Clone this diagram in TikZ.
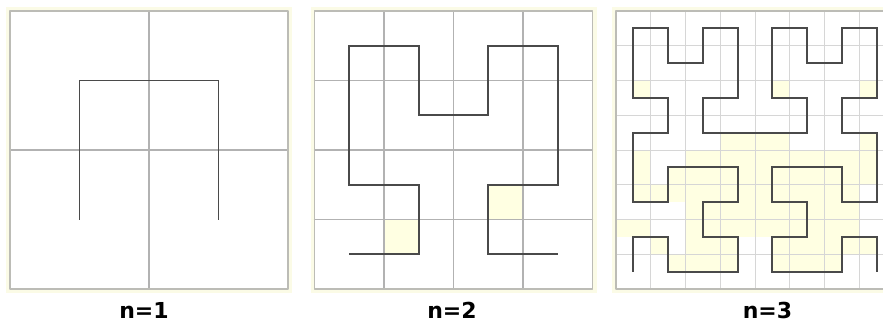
\documentclass[tikz,border=0pt]{standalone}
\usepackage{fontspec}
\newfontfamily\captionfont{DejaVu Sans}
\usetikzlibrary{positioning}

\definecolor{halo}{HTML}{FBFBE6}
\definecolor{framegray}{HTML}{BCBCB6}
\definecolor{gridgray}{HTML}{B2B2B2}
\definecolor{finegray}{HTML}{D6D6D6}
\definecolor{curvegray}{HTML}{4A4A4A}
\definecolor{paleyellow}{HTML}{FFFFE2}

\begin{document}
\begin{tikzpicture}[x=1pt, y=-1pt, line cap=round, line join=round,
    panel/.style={draw=framegray, line width=1.6pt},
    gridline/.style={draw=gridgray, line width=1.1pt},
    fineline/.style={draw=finegray, line width=1pt},
    curve/.style={draw=curvegray, line width=1.9pt, line cap=butt, line join=miter},
    shade/.style={fill=paleyellow},
    caption/.style={font=\captionfont\bfseries\fontsize{22}{22}\selectfont, anchor=base}]
	\useasboundingbox (0,0) rectangle (883,327);
	\clip (0,0) rectangle (883,327);
	% halos round the panels
	\foreach \px in {10,314.5,616}
		\fill[halo] (\px-4,7) rectangle (\px+282,293);
	% n=1
	\begin{scope}[xshift=10pt, yshift=-289pt, x=139pt, y=139pt]
		\fill[white] (0,0) rectangle (2,2);
		\draw[gridline] (1,0) -- (1,2) (0,1) -- (2,1);
		\draw[panel] (0,0) rectangle (2,2);
		\draw[curve, shift={(0.5,0.5)}] (0,0) -- (0,1) -- (1,1) -- (1,0);
	\end{scope}
	% n=2
	\begin{scope}[xshift=314.5pt, yshift=-289pt, x=69.5pt, y=69.5pt]
		\fill[white] (0,0) rectangle (4,4);
		\fill[shade] (1,0.5) rectangle (1.5,1);
		\fill[shade] (2.5,1) rectangle (3,1.5);
		\foreach \k in {1,2,3}
			\draw[gridline] (\k,0) -- (\k,4) (0,\k) -- (4,\k);
		\draw[panel] (0,0) rectangle (4,4);
		\draw[curve, shift={(0.5,0.5)}] (0,0) -- (1,0) -- (1,1) -- (0,1) -- (0,3) -- (1,3)
			-- (1,2) -- (2,2) -- (2,3) -- (3,3) -- (3,1) -- (2,1) -- (2,0) -- (3,0);
	\end{scope}
	% n=3, shaded bits (half cells, rows counted from top)
	\begin{scope}[xshift=616pt, yshift=-11pt, x=17.375pt, y=-17.375pt]
		\fill[white] (0,0) rectangle (16,16);
		\foreach \a/\b/\v in {1/2/4, 9/10/4, 14/15/4, 6/10/7, 14/15/7, 1/2/8, 4/15/8,
				1/2/9, 3/15/9, 1/14/10, 4/14/11, 0/2/12, 4/14/12, 2/3/13, 4/7/13,
				9/15/13, 3/7/14, 9/13/14}
			\fill[shade] (\a,\v) rectangle (\b,\v+1);
	\end{scope}
	\begin{scope}[xshift=616pt, yshift=-289pt, x=34.75pt, y=34.75pt]
		\foreach \k in {1,...,7}
			\draw[fineline] (\k,0) -- (\k,8) (0,\k) -- (8,\k);
		\draw[panel] (0,0) rectangle (8,8);
		\draw[curve, shift={(0.5,0.5)}] (0,0) -- (0,1) -- (1,1) -- (1,0) -- (3,0) -- (3,1)
			-- (2,1) -- (2,2) -- (3,2) -- (3,3) -- (1,3) -- (1,2) -- (0,2) -- (0,4)
			-- (1,4) -- (1,5) -- (0,5) -- (0,7) -- (1,7) -- (1,6) -- (2,6) -- (2,7)
			-- (3,7) -- (3,5) -- (2,5) -- (2,4) -- (5,4) -- (5,5) -- (4,5) -- (4,7)
			-- (5,7) -- (5,6) -- (6,6) -- (6,7) -- (7,7) -- (7,5) -- (6,5) -- (6,4)
			-- (7,4) -- (7,2) -- (6,2) -- (6,3) -- (4,3) -- (4,2) -- (5,2) -- (5,1)
			-- (4,1) -- (4,0) -- (6,0) -- (6,1) -- (7,1) -- (7,0);
	\end{scope}
	% labels
	\node[caption] (lab1) at (144,318.5) {n=1};
	\node[caption] (lab2) at (452,318.5) {n=2};
	\node[caption] (lab3) at (767.5,318.5) {n=3};
\end{tikzpicture}
\end{document}
